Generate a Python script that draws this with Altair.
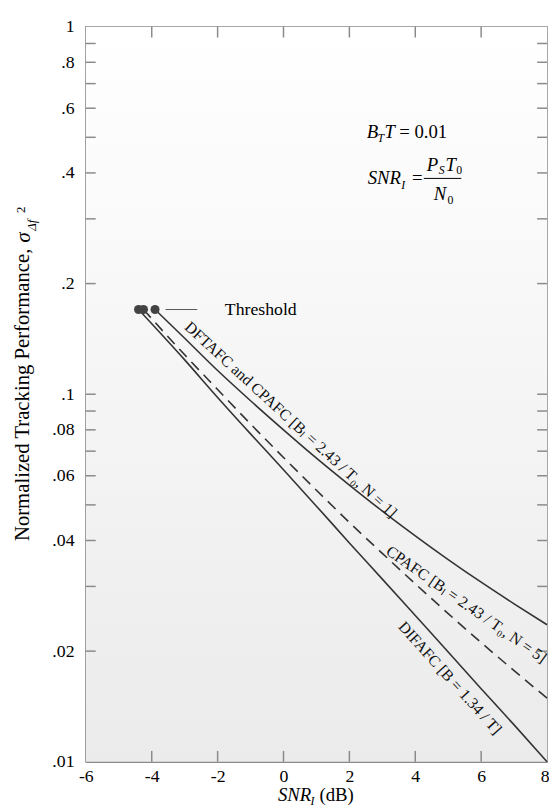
import altair as alt
import pandas as pd

FONT = "Liberation Serif"
W, H = 468, 746

# ---------------- data ----------------
snr_upper = [-3.9, -3, -2, -1, 0, 1, 2, 3, 4, 5, 6, 7, 8]
var_upper = [0.170, 0.142, 0.116, 0.096, 0.080, 0.067, 0.0566, 0.0481, 0.0412, 0.0355, 0.0308, 0.0269, 0.0236]

snr_dashed = [-4.25, -3, -2, -1, 0, 1, 2, 3, 4, 5, 6, 7, 8]
var_dashed = [0.170, 0.128, 0.103, 0.083, 0.0673, 0.0548, 0.0448, 0.0369, 0.0305, 0.0253, 0.0211, 0.0177, 0.0149]

snr_lower = [-4.4, -3, -2, -1, 0, 1, 2, 3, 4, 5, 6, 7, 8]
var_lower = [0.170, 0.124, 0.098, 0.078, 0.0623, 0.0496, 0.0394, 0.0314, 0.0250, 0.0199, 0.0158, 0.0126, 0.0100]

threshold_snr = [-4.4, -4.25, -3.9]
threshold_var = [0.17, 0.17, 0.17]
threshold_line_snr = [-3.58, -2.62]
threshold_text_snr = -1.78

x_labels = [-6, -4, -2, 0, 2, 4, 6, 8]
x_tick_marks = [-4, -2, 0, 2, 4, 6]
y_labels = [1, 0.8, 0.6, 0.4, 0.2, 0.1, 0.08, 0.06, 0.04, 0.02, 0.01]
y_tick_marks = [0.9, 0.8, 0.7, 0.6, 0.5, 0.4, 0.3, 0.2,
                0.1, 0.09, 0.08, 0.07, 0.06, 0.05, 0.04, 0.03, 0.02]

curve_labels = [
    "DFTAFC and CPAFC [Bₗ = 2.43 / T₀, N = 1]",
    "CPAFC [Bₗ = 2.43 / T₀, N = 5]",
    "DIFAFC [B = 1.34 / T]",
]
curve_label_snr = [0.22, 5.55, 5.05]
curve_label_var = [0.0852, 0.0268, 0.0169]
curve_label_angle = [42.5, 35, 48]

# ---------------- scales & axes ----------------
xscale = alt.Scale(domain=[-6, 8], nice=False, zero=False)
yscale = alt.Scale(type="log", domain=[0.01, 1], nice=False)
FRAME = "#8a8a8a"
XAX = alt.Axis(values=x_labels, labelExpr="toString(datum.value)", title=None,
               labelPadding=6, labelFlush=False, ticks=False, grid=False,
               labelFont=FONT, labelFontSize=18, labelColor="black",
               labelAlign={"condition": {"test": "datum.value == 8", "value": "right"}, "value": "center"},
               labelOffset={"condition": {"test": "datum.value == 8", "value": 2}, "value": 0},
               domainColor=FRAME, domainWidth=1.5)
YAX = alt.Axis(values=y_labels, labelExpr="replace(toString(datum.value), '0.', '.')",
               title=None, labelPadding=12, labelFlush=False, ticks=False, grid=False,
               labelFont=FONT, labelFontSize=18, labelColor="black",
               domainColor=FRAME, domainWidth=1.5)


def X(field):
    return alt.X(field, scale=xscale, axis=XAX, title=None)


def Y(field):
    return alt.Y(field, scale=yscale, axis=YAX, title=None)


one = pd.DataFrame({"a": [0]})
LINE_COLOR = "#333333"

# background gradient
bg = alt.Chart(one).mark_rect(
    fill=alt.LinearGradient(
        gradient="linear",
        stops=[alt.GradientStop(color="#ffffff", offset=0),
               alt.GradientStop(color="#ebebeb", offset=1)],
        x1=0, x2=0, y1=0, y2=1),
).encode(x=alt.value(0), x2=alt.value(W), y=alt.value(0), y2=alt.value(H))

# inward tick marks
ydf = pd.DataFrame({"t": y_tick_marks})
xdf = pd.DataFrame({"t": x_tick_marks})
yt_left = alt.Chart(ydf).mark_rule(color=FRAME, strokeWidth=1.5).encode(
    y=Y("t:Q"), x=alt.value(0), x2=alt.value(10))
yt_right = alt.Chart(ydf).mark_rule(color=FRAME, strokeWidth=1.5).encode(
    y=Y("t:Q"), x=alt.value(W - 10), x2=alt.value(W))
xt_bottom = alt.Chart(xdf).mark_rule(color=FRAME, strokeWidth=1.5).encode(
    x=X("t:Q"), y=alt.value(H - 11), y2=alt.value(H))
xt_top = alt.Chart(xdf).mark_rule(color=FRAME, strokeWidth=1.5).encode(
    x=X("t:Q"), y=alt.value(0), y2=alt.value(11))


def curve(snr, var, dash=None):
    df = pd.DataFrame({"snr": snr, "var": var})
    kw = dict(color=LINE_COLOR, strokeWidth=1.6, interpolate="monotone")
    if dash:
        kw["strokeDash"] = dash
    return alt.Chart(df).mark_line(**kw).encode(x=X("snr:Q"), y=Y("var:Q"))


upper = curve(snr_upper, var_upper)
dashed = curve(snr_dashed, var_dashed, dash=[11, 7])
lower = curve(snr_lower, var_lower)

dots = alt.Chart(pd.DataFrame({"snr": threshold_snr, "var": threshold_var})).mark_circle(
    size=85, color="#444444", opacity=1).encode(x=X("snr:Q"), y=Y("var:Q"))

thr_line = alt.Chart(pd.DataFrame({"x1": [threshold_line_snr[0]], "x2": [threshold_line_snr[1]],
                                   "var": [threshold_var[0]]})).mark_rule(
    color="#555555", strokeWidth=1).encode(x=X("x1:Q"), x2="x2:Q", y=Y("var:Q"))

thr_text = alt.Chart(pd.DataFrame({"snr": [threshold_text_snr], "var": [threshold_var[0]]})).mark_text(
    text="Threshold", font=FONT, fontSize=18, align="left", baseline="middle", color="black", dy=1).encode(
    x=X("snr:Q"), y=Y("var:Q"))

curve_texts = []
for s, xv, yv, ang in zip(curve_labels, curve_label_snr, curve_label_var, curve_label_angle):
    curve_texts.append(
        alt.Chart(pd.DataFrame({"snr": [xv], "var": [yv]})).mark_text(
            text=s, font=FONT, fontSize=16, angle=ang, align="center", baseline="middle",
            color="#111111").encode(x=X("snr:Q"), y=Y("var:Q")))


def label(s, x, y, size=19, style="normal", angle=0, align="left"):
    return alt.Chart(one).mark_text(
        text=s, font=FONT, fontSize=size, fontStyle=style, angle=angle,
        align=align, baseline="alphabetic", color="black").encode(
        x=alt.value(x), y=alt.value(y))


annotations = [
    # B_T T = 0.01
    label("B", 285, 113, style="italic"),
    label("T", 296, 117, size=12, style="italic"),
    label("T", 303, 113, style="italic"),
    label("= 0.01", 318, 113),
    # SNR_I = P_S T_0 / N_0
    label("SNR", 286, 160, style="italic"),
    label("I", 320, 165, size=12, style="italic"),
    label("=", 331, 160),
    label("P", 346, 146, style="italic"),
    label("S", 358, 150, size=12, style="italic"),
    label("T", 365, 146, style="italic"),
    label("0", 376, 150, size=12),
    label("N", 353, 176, style="italic"),
    label("0", 367, 180, size=12),
    # x title
    label("SNR", 195, 786, style="italic"),
    label("I", 228, 790, size=12, style="italic"),
    label("(dB)", 237, 786),
    # y title
    label("Normalized Tracking Performance,", -58, 522, size=21, angle=270),
    label("σ", -57, 219, size=21, style="italic", angle=270),
    label("Δf", -51, 207, size=13, style="italic", angle=270),
    label("2", -62, 189, size=13, angle=270),
]

frac_bar = alt.Chart(one).mark_rule(color="black", strokeWidth=1).encode(
    x=alt.value(343), x2=alt.value(381), y=alt.value(154))

chart = alt.layer(
    bg, yt_left, yt_right, xt_bottom, xt_top,
    upper, dashed, lower, dots, thr_line, thr_text, *curve_texts, *annotations, frac_bar,
).properties(
    width=W, height=H,
    autosize=alt.AutoSizeParams(type="none"),
    padding={"left": 79, "top": 13, "right": 2, "bottom": 44},
    background="white",
).configure_view(
    stroke=FRAME, strokeWidth=1.5,
)

chart.save("out.html", embed_options={"renderer": "svg", "actions": False})
